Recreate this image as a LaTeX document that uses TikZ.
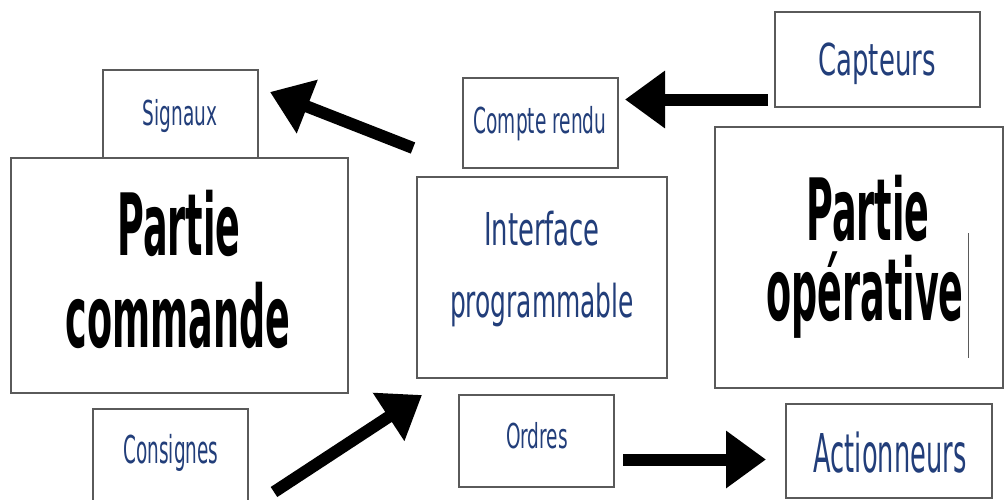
\documentclass[tikz,border=0pt]{standalone}
\usepackage{fontspec}
\setmainfont{DejaVu Sans}
\usepackage{graphicx}
\usetikzlibrary{arrows.meta}
\definecolor{labelblue}{RGB}{34,62,122}
\definecolor{framegray}{RGB}{90,90,90}
% horizontally condensed text
\newcommand{\narrowtext}[2]{\scalebox{#1}[1]{#2}}
\tikzset{
  frame/.style={draw=framegray, line width=1.5pt, rectangle, inner sep=0pt, fill=white},
  bluelabel/.style={text=labelblue, inner sep=0pt, anchor=base},
  biglabel/.style={text=black, inner sep=0pt, anchor=base, font=\bfseries\fontsize{86}{92}\selectfont},
  blockarrow/.style={line width=12pt, -{Triangle[length=40pt,width=55pt]}},
}
\begin{document}
\begin{tikzpicture}[x=1pt,y=-1pt]
\useasboundingbox (0,0) rectangle (1004,499);
\clip (0,0) rectangle (1004,499);

% boxes
\node[frame, minimum width=155pt, minimum height=88pt]  (signaux)     at (180.5,114)  {};
\node[frame, minimum width=337pt, minimum height=235pt] (commande)    at (179.5,275.5) {};
\node[frame, minimum width=155pt, minimum height=90pt]  (compte)      at (540.5,123)  {};
\node[frame, minimum width=250pt, minimum height=201pt] (interface)   at (542,277.5)  {};
\node[frame, minimum width=205pt, minimum height=95pt]  (capteurs)    at (877.5,59.5) {};
\node[frame, minimum width=288pt, minimum height=261pt] (operative)   at (859,257.5)  {};
\node[frame, minimum width=155pt, minimum height=96pt]  (consignes)   at (170.5,457)  {};
\node[frame, minimum width=155pt, minimum height=92pt]  (ordres)      at (536.5,441)  {};
\node[frame, minimum width=206pt, minimum height=94pt]  (actionneurs) at (889,451)    {};

% labels
\node[bluelabel, font=\fontsize{34.3}{40}\selectfont] (signaux-t) at (180,125) {\narrowtext{0.54}{Signaux}};
\node[bluelabel, font=\fontsize{35.7}{40}\selectfont] (compte-t) at (540,133) {\narrowtext{0.52}{Compte rendu}};
\node[bluelabel, font=\fontsize{44}{50}\selectfont] (capteurs-t) at (877,75) {\narrowtext{0.59}{Capteurs}};
\node[bluelabel, font=\fontsize{45.3}{50}\selectfont] (interface-t1) at (542,245) {\narrowtext{0.57}{Interface}};
\node[bluelabel, font=\fontsize{45.3}{50}\selectfont] (interface-t2) at (542,317) {\narrowtext{0.55}{programmable}};
\node[bluelabel, font=\fontsize{38.4}{44}\selectfont] (consignes-t) at (171,463) {\narrowtext{0.48}{Consignes}};
\node[bluelabel, font=\fontsize{34.3}{40}\selectfont] (ordres-t) at (537,448) {\narrowtext{0.54}{Ordres}};
\node[bluelabel, font=\fontsize{53.5}{60}\selectfont] (actionneurs-t) at (890,472) {\narrowtext{0.48}{Actionneurs}};

\node[biglabel] (commande-t1) at (179,255) {\narrowtext{0.425}{Partie}};
\node[biglabel] (commande-t2) at (178,347) {\narrowtext{0.425}{commande}};
\node[biglabel] (operative-t1) at (868,240) {\narrowtext{0.425}{Partie}};
\node[biglabel] (operative-t2) at (865,320) {\narrowtext{0.425}{opérative}};

% text cursor
\draw[framegray, line width=0.8pt] (968,233) -- (968,358);

% arrows
\coordinate (up-from)   at (413,148);
\coordinate (up-to)     at (270,92);
\coordinate (cap-from)  at (768,99.5);
\coordinate (cap-to)    at (625,99.5);
\coordinate (cons-from) at (274,492);
\coordinate (cons-to)   at (422,395);
\coordinate (ord-from)  at (623,459.5);
\coordinate (ord-to)    at (766,459.5);

\draw[blockarrow] (up-from) -- (up-to);
\draw[blockarrow] (cap-from) -- (cap-to);
\draw[blockarrow] (cons-from) -- (cons-to);
\draw[blockarrow] (ord-from) -- (ord-to);
\end{tikzpicture}
\end{document}
